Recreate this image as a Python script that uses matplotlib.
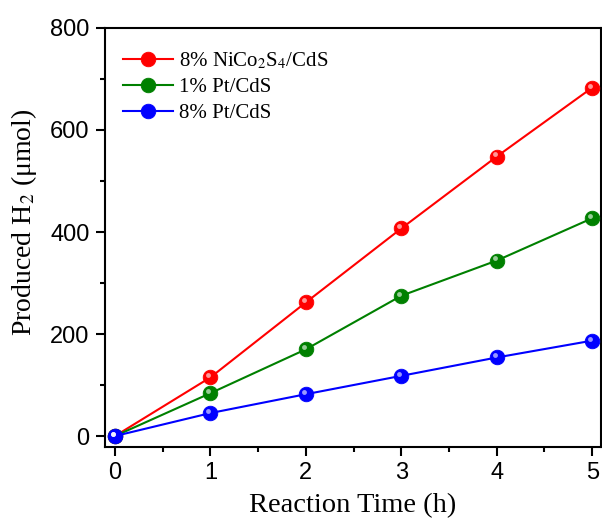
import matplotlib
matplotlib.use("Agg")
import matplotlib.pyplot as plt
import matplotlib.transforms as mtransforms
from matplotlib.ticker import MultipleLocator

plt.rcParams['mathtext.fontset'] = 'stix'

time_h = [0, 1, 2, 3, 4, 5]
nico_cds = [0, 115, 262, 407, 548, 683]
pt1_cds = [0, 84, 170, 275, 344, 427]
pt8_cds = [0, 45, 82, 118, 154, 187]
series_labels = ["8% NiCo$_2$S$_4$/CdS", "1% Pt/CdS", "8% Pt/CdS"]
series_colors = ["#ff0000", "#008000", "#0000ff"]

fig = plt.figure(figsize=(6.02, 5.22), dpi=100)
ax = fig.add_axes([0.1744, 0.1437, 0.8236, 0.8027])

serif = ["Liberation Serif", "DejaVu Serif"]
sans = ["Liberation Sans", "DejaVu Sans"]

hl = ax.transData + mtransforms.ScaledTranslation(-1.5/72, 1.5/72, fig.dpi_scale_trans)
for ys, lab, col in zip([nico_cds, pt1_cds, pt8_cds], series_labels, series_colors):
    ax.plot(time_h, ys, color=col, lw=1.5, marker='o', ms=10.5,
            mfc=col, mec=col, mew=0.6, label=lab, zorder=3)
    ax.plot(time_h, ys, ls='none', marker='o', ms=3.5, mfc='white', mec='none',
            alpha=0.6, transform=hl, zorder=4)

ax.set_xlim(-0.105, 5.09)
ax.set_ylim(-21.5, 800)
ax.xaxis.set_major_locator(MultipleLocator(1))
ax.xaxis.set_minor_locator(MultipleLocator(0.5))
ax.yaxis.set_major_locator(MultipleLocator(200))
ax.yaxis.set_minor_locator(MultipleLocator(100))
ax.tick_params(which='both', direction='out', width=1.5)
ax.tick_params(which='major', length=6.5, labelsize=17, pad=4.5)
ax.tick_params(which='minor', length=3.5)
for lbl in ax.get_xticklabels() + ax.get_yticklabels():
    lbl.set_family(sans)
for sp in ax.spines.values():
    sp.set_linewidth(1.5)

ax.set_xlabel("Reaction Time (h)", family=serif, fontsize=20.5)
ax.set_ylabel("Produced H$_2$ (μmol)", family=serif, fontsize=20)
ax.xaxis.set_label_coords(0.5, -0.11)
ax.yaxis.set_label_coords(-0.133, 0.535)

leg = ax.legend(loc='upper left', bbox_to_anchor=(0.006, 0.981), frameon=False,
                prop={'family': serif, 'size': 15}, handlelength=2.4,
                handletextpad=0.3, labelspacing=0.3, borderaxespad=0.3)

fig.savefig("out.png", dpi=100)
